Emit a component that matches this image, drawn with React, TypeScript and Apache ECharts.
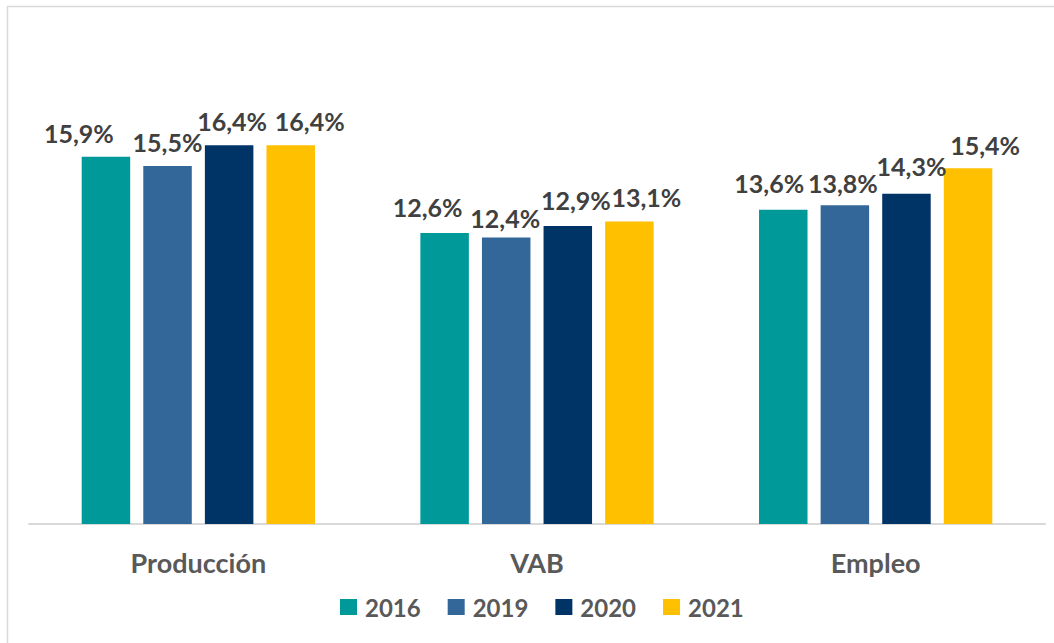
import React, { useEffect, useRef } from "react";
import * as echarts from "echarts";

const categories = ["Producción", "VAB", "Empleo"];
const years = ["2016", "2019", "2020", "2021"];
const values2016 = [15.9, 12.6, 13.6];
const values2019 = [15.5, 12.4, 13.8];
const values2020 = [16.4, 12.9, 14.3];
const values2021 = [16.4, 13.1, 15.4];
const colors = ["#009999", "#336699", "#003366", "#FFC000"];

// label nudges (layout only), per series per category: [dx, dy]
const labelOffsets: number[][][] = [
  [[-27, 1], [-17, -1], [-14, -2]],
  [[0, 1], [-1, 5], [-2, 2]],
  [[3, 0], [8, -2], [5, -3]],
  [[19, 0], [17, 0], [17, 1]],
];

const FONT = "Lato";

export default function App() {
  const ref = useRef<HTMLDivElement>(null);
  useEffect(() => {
    document.body.style.margin = "0";
    const chart = echarts.init(ref.current!, null, { renderer: "svg" });
    const seriesData = [values2016, values2019, values2020, values2021];
    chart.setOption({
      animation: false,
      backgroundColor: "#ffffff",
      grid: { left: 29, right: 9, top: 62, bottom: 119 },
      legend: {
        data: years,
        left: 335,
        top: 590,
        itemWidth: 17,
        itemHeight: 16,
        itemGap: 27,
        icon: "rect",
        textStyle: {
          fontFamily: FONT,
          fontWeight: "bold",
          fontSize: 24,
          color: "#595959",
          padding: [0, 0, 0, 3],
        },
      },
      xAxis: {
        type: "category",
        data: categories,
        axisLine: { lineStyle: { color: "#d9d9d9", width: 2 } },
        axisTick: { show: false },
        axisLabel: {
          margin: 25,
          fontFamily: FONT,
          fontWeight: "bold",
          fontSize: 27,
          color: "#595959",
        },
      },
      yAxis: {
        type: "value",
        min: 0,
        max: 20,
        show: false,
        splitLine: { show: false },
      },
      graphic: [
        {
          type: "rect",
          shape: { x: 7.5, y: 6.5, width: 1200, height: 800 },
          style: { fill: "none", stroke: "#d9d9d9", lineWidth: 1.5 },
          silent: true,
        },
      ],
      series: years.map((y, i) => ({
        name: y,
        type: "bar",
        data: seriesData[i].map((v, j) => ({
          value: v,
          label: { offset: labelOffsets[i][j] },
        })),
        barWidth: 48.5,
        barGap: "27%",
        itemStyle: { color: colors[i] },
        label: {
          show: true,
          position: "top",
          distance: 12,
          fontFamily: FONT,
          fontWeight: "bold",
          fontSize: 25,
          color: "#404040",
          formatter: (p: any) => Number(p.value).toFixed(1).replace(".", ",") + "%",
        },
      })),
    });
    return () => chart.dispose();
  }, []);
  return <div ref={ref} style={{ width: 1054, height: 643 }} />;
}
